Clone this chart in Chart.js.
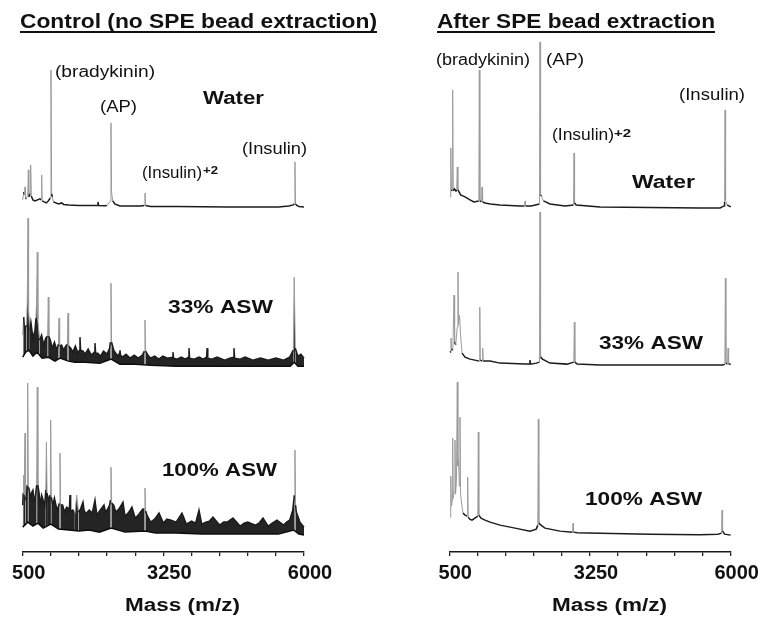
<!DOCTYPE html>
<html>
<head>
<meta charset="utf-8">
<script src="https://cdn.jsdelivr.net/npm/chart.js@4.4.1/dist/chart.umd.min.js"></script>
<style>
  html, body { margin: 0; padding: 0; background: #fff; }
  #wrap { position: relative; width: 764px; height: 618px; overflow: hidden; }
  .panel { position: absolute; top: 0; width: 382px; height: 618px; }
  #pL { left: 0; }
  #pR { left: 382px; }
</style>
</head>
<body>
<div id="wrap">
  <div class="panel" id="pL"><canvas id="cL"></canvas></div>
  <div class="panel" id="pR"><canvas id="cR"></canvas></div>
</div>
<script>
// ---- m/z axis ----
const mzTicks = [500, 1050, 1600, 2150, 2700, 3250, 3800, 4350, 4900, 5450, 6000];
const mzTickLabels = [500, 3250, 6000];

// ---- Control (no SPE bead extraction) ----
// Water
const ctlWaterMz  = [500, 520, 535, 545, 555, 575, 600, 610, 620, 645, 656, 668, 700, 740, 838, 862, 871, 880, 920, 960, 1000, 1040, 1053, 1066, 1080, 1100, 1200, 1262, 1300, 1400, 1600, 1800, 1960, 1972, 1984, 2100, 2150, 2215, 2226, 2237, 2260, 2300, 2400, 2800, 2880, 2891, 2902, 3000, 3500, 4000, 4500, 5000, 5500, 5700, 5790, 5812, 5823, 5834, 5860, 5900, 6000];
const ctlWaterInt = [70, 150, 120, 200, 90, 80, 140, 370, 100, 130, 420, 110, 70, 60, 80, 70, 320, 60, 50, 40, 60, 90, 1370, 130, 100, 50, 30, 40, 25, 20, 15, 15, 15, 50, 15, 12, 15, 60, 840, 150, 60, 30, 10, 8, 15, 140, 15, 5, 3, 2, 0, 0, 0, 10, 20, 30, 450, 30, 15, 5, 0];

// 33% ASW: upper edge of the noise band (with peaks) and lower edge
const ctl33Mz  = [500, 520, 535, 545, 575, 590, 604, 615, 640, 660, 700, 740, 760, 773, 785, 797, 830, 870, 910, 950, 988, 1000, 1012, 1040, 1080, 1120, 1170, 1198, 1210, 1222, 1260, 1300, 1340, 1374, 1386, 1398, 1440, 1480, 1530, 1580, 1608, 1620, 1632, 1680, 1720, 1780, 1840, 1900, 1913, 1926, 1970, 2020, 2080, 2150, 2200, 2214, 2226, 2238, 2280, 2330, 2370, 2390, 2401, 2412, 2450, 2520, 2600, 2680, 2760, 2840, 2879, 2891, 2903, 2950, 3000, 3080, 3160, 3240, 3330, 3426, 3438, 3450, 3520, 3600, 3680, 3739, 3751, 3763, 3850, 3950, 4030, 4095, 4107, 4119, 4200, 4300, 4450, 4550, 4619, 4631, 4643, 4750, 4850, 5000, 5150, 5300, 5450, 5600, 5720, 5790, 5809, 5830, 5880, 5940, 6000];
const ctl33Int = [310, 490, 360, 380, 410, 660, 1480, 560, 360, 440, 280, 360, 480, 660, 1140, 460, 260, 310, 210, 280, 300, 690, 300, 260, 180, 240, 160, 220, 480, 200, 210, 160, 200, 220, 530, 200, 180, 140, 200, 130, 160, 290, 160, 150, 120, 170, 110, 140, 230, 130, 130, 100, 150, 120, 180, 240, 830, 240, 160, 120, 100, 130, 160, 110, 90, 120, 80, 110, 80, 110, 150, 460, 150, 110, 80, 100, 70, 100, 80, 90, 140, 80, 70, 90, 70, 90, 180, 80, 70, 90, 70, 90, 180, 80, 70, 90, 60, 80, 90, 180, 80, 70, 90, 60, 80, 60, 80, 60, 90, 160, 890, 180, 100, 120, 80];
const ctl33LowMz  = [500, 560, 620, 700, 780, 880, 1000, 1130, 1230, 1390, 1520, 1720, 2010, 2230, 2400, 2700, 3000, 3500, 4000, 4500, 5000, 5500, 5730, 5810, 5880, 6000];
const ctl33LowInt = [90, 140, 160, 100, 140, 80, 90, 50, 80, 50, 40, 40, 30, 70, 20, 20, 10, 0, 0, 0, 0, 0, 0, 40, 0, 0];

// 100% ASW
const ctl100Mz  = [500, 510, 520, 532, 545, 556, 570, 586, 598, 610, 630, 650, 672, 700, 720, 740, 773, 785, 797, 820, 840, 870, 900, 930, 952, 964, 976, 1000, 1035, 1047, 1059, 1090, 1120, 1150, 1180, 1217, 1229, 1241, 1280, 1320, 1360, 1413, 1425, 1437, 1480, 1520, 1556, 1590, 1630, 1679, 1700, 1730, 1800, 1860, 1913, 1950, 2000, 2089, 2120, 2160, 2200, 2214, 2226, 2238, 2280, 2320, 2380, 2461, 2500, 2560, 2600, 2636, 2700, 2760, 2800, 2850, 2879, 2891, 2903, 2930, 3000, 3080, 3165, 3250, 3320, 3400, 3500, 3614, 3700, 3800, 3880, 3947, 4000, 4080, 4150, 4220, 4350, 4430, 4500, 4611, 4750, 4830, 4900, 5050, 5120, 5198, 5300, 5380, 5472, 5600, 5660, 5720, 5780, 5811, 5823, 5835, 5850, 5920, 6000];
const ctl100Int = [300, 420, 600, 400, 1020, 380, 350, 500, 1520, 480, 450, 370, 420, 450, 360, 350, 500, 1480, 500, 420, 300, 400, 350, 300, 450, 930, 420, 350, 400, 1150, 380, 300, 370, 300, 250, 320, 820, 300, 300, 230, 280, 260, 400, 240, 250, 210, 400, 230, 260, 330, 250, 210, 250, 220, 350, 200, 240, 300, 230, 260, 300, 350, 680, 320, 300, 230, 260, 330, 190, 220, 250, 280, 170, 200, 230, 260, 260, 470, 240, 200, 130, 160, 220, 120, 160, 150, 130, 220, 110, 140, 120, 250, 110, 130, 140, 180, 100, 130, 130, 170, 90, 120, 130, 100, 120, 170, 90, 120, 150, 100, 130, 150, 250, 400, 850, 300, 230, 130, 80];
const ctl100LowMz  = [500, 600, 700, 800, 900, 1050, 1200, 1400, 1600, 1800, 2000, 2230, 2500, 2890, 3100, 3500, 4000, 4500, 5000, 5500, 5800, 5900, 6000];
const ctl100LowInt = [80, 130, 90, 120, 70, 110, 60, 50, 40, 50, 30, 70, 30, 40, 20, 20, 10, 10, 10, 10, 50, 10, 0];

// ---- After SPE bead extraction ----
const speWaterMz  = [514, 524, 533, 542, 556, 566, 576, 600, 630, 645, 656, 667, 690, 720, 807, 905, 980, 1077, 1087, 1097, 1130, 1140, 1150, 1198, 1300, 1491, 1882, 1970, 1980, 1990, 2100, 2262, 2273, 2284, 2300, 2340, 2469, 2762, 2928, 2938, 2948, 2980, 3446, 4424, 5401, 5792, 5870, 5880, 5890, 5900, 5930, 6000];
const speWaterInt = [110, 180, 600, 170, 180, 1180, 170, 190, 170, 180, 410, 180, 160, 130, 110, 80, 60, 70, 1380, 70, 60, 210, 60, 50, 40, 30, 20, 20, 70, 20, 20, 40, 1660, 130, 120, 70, 40, 20, 30, 550, 50, 30, 10, 5, 0, 0, 20, 60, 980, 80, 30, 10];

const spe33Mz  = [514, 523, 533, 543, 570, 592, 604, 625, 655, 670, 680, 700, 720, 750, 807, 905, 1000, 1086, 1096, 1106, 1143, 1153, 1163, 1296, 1491, 1980, 2067, 2077, 2087, 2200, 2262, 2273, 2284, 2320, 2469, 2800, 2934, 2944, 2954, 3000, 3446, 5401, 5850, 5886, 5896, 5906, 5939, 5949, 5959, 6000];
const spe33Int = [130, 140, 270, 150, 160, 700, 230, 200, 380, 930, 400, 500, 300, 120, 80, 60, 50, 40, 580, 50, 40, 170, 40, 40, 20, 10, 10, 50, 10, 20, 30, 1530, 80, 60, 20, 10, 30, 430, 30, 10, 0, 0, 0, 10, 870, 20, 10, 170, 10, 10];

const spe100Mz  = [514, 524, 533, 543, 556, 566, 576, 600, 611, 622, 640, 656, 668, 680, 697, 709, 721, 740, 768, 807, 849, 859, 869, 900, 944, 1000, 1057, 1067, 1077, 1120, 1198, 1296, 1491, 1784, 2077, 2200, 2230, 2240, 2250, 2290, 2371, 2664, 2908, 2918, 2928, 3000, 3446, 4424, 5401, 5750, 5821, 5831, 5841, 5880, 6000];
const spe100Int = [190, 260, 600, 300, 350, 980, 380, 450, 960, 420, 560, 1540, 700, 760, 500, 1190, 420, 330, 230, 210, 200, 590, 190, 170, 160, 180, 200, 1040, 210, 180, 160, 140, 110, 80, 50, 70, 110, 1170, 130, 110, 80, 50, 40, 130, 40, 35, 30, 20, 15, 20, 30, 260, 50, 20, 10];

// ---- drawing helpers ----
const FONT = '"Liberation Sans", Arial, Helvetica, sans-serif';
const pts = (mz, it) => mz.map((m, i) => ({ x: m, y: it[i] }));

// tall, steep segments (peaks) are drawn as thin grey hairlines
function peakSegment(minRise) {
  const steep = c => Math.abs(c.p1.y - c.p0.y) > minRise;
  return {
    borderColor: c => steep(c) ? '#9b9b9b' : '#1c1c1c',
    borderWidth: c => steep(c) ? 1 : 1.5
  };
}

function trace(mz, it, axis) {
  return {
    data: pts(mz, it), yAxisID: axis, borderColor: '#1c1c1c', borderWidth: 1.5,
    pointRadius: 0, tension: 0, fill: false, segment: peakSegment(4), clip: false
  };
}
function noisyTrace(mz, it, lowMz, lowIt, axis) {
  return [
    { data: pts(mz, it), yAxisID: axis, borderColor: '#1c1c1c', borderWidth: 1.2,
      pointRadius: 0, tension: 0, fill: '+1', backgroundColor: 'rgba(12,12,12,0.9)',
      segment: peakSegment(16), clip: false },
    { data: pts(lowMz, lowIt), yAxisID: axis, borderColor: '#111', borderWidth: 1.5,
      pointRadius: 0, tension: 0, fill: false, clip: false }
  ];
}

// Three spectra stacked in one panel: each has its own intensity axis,
// whose zero sits at the given fraction of the plot height (from the top).
const FULL_SCALE = 5120; // a.u. spanned by the full plot height
function stackAxis(zeroFrac) {
  return { type: 'linear', display: false, min: -(1 - zeroFrac) * FULL_SCALE, max: zeroFrac * FULL_SCALE };
}

function xAxis() {
  return {
    type: 'linear', min: 500, max: 6000,
    afterBuildTicks: s => { s.ticks = mzTicks.map(v => ({ value: v })); },
    afterFit: s => { s.height = 66; },
    ticks: {
      autoSkip: false, maxRotation: 0, padding: 5, labelOffset: 6, color: '#111',
      font: { family: FONT, size: 20, weight: 'bold' },
      callback: v => mzTickLabels.includes(v) ? String(v) : ''
    },
    grid: { display: true, drawOnChartArea: false, drawTicks: true, tickLength: 4, color: '#222', lineWidth: 1.3 },
    border: { display: true, color: '#1a1a1a', width: 1.6 }
  };
}

// text drawn horizontally fitted to a given width
function drawFitted(ctx, t) {
  ctx.save();
  ctx.font = t.font;
  const w = ctx.measureText(t.text).width;
  ctx.translate(t.x, t.y);
  ctx.scale(t.w / w, 1);
  ctx.fillStyle = '#111';
  ctx.textAlign = 'left';
  ctx.textBaseline = 'alphabetic';
  ctx.fillText(t.text, 0, 0);
  ctx.restore();
  if (t.underline) {
    ctx.save();
    ctx.strokeStyle = '#111';
    ctx.lineWidth = 2;
    ctx.beginPath();
    ctx.moveTo(t.x, t.y + 4);
    ctx.lineTo(t.x + t.w, t.y + 4);
    ctx.stroke();
    ctx.restore();
  }
}
const labelsPlugin = {
  id: 'panelLabels',
  afterDraw(chart, args, opts) {
    (opts.items || []).forEach(t => drawFitted(chart.ctx, t));
  }
};

const bold = s => `bold ${s}px ${FONT}`;
const reg = s => `${s}px ${FONT}`;

const leftText = [
  { text: 'Control (no SPE bead extraction)', x: 20, y: 28, w: 357, font: bold(20), underline: true },
  { text: '(bradykinin)', x: 55, y: 77, w: 100, font: reg(16) },
  { text: '(AP)', x: 100, y: 112, w: 37, font: reg(16) },
  { text: '(Insulin)', x: 142, y: 178, w: 60, font: reg(16) },
  { text: '+2', x: 203, y: 174, w: 15, font: bold(11) },
  { text: '(Insulin)', x: 242, y: 154, w: 65, font: reg(16) },
  { text: 'Water', x: 203, y: 104, w: 61, font: bold(18) },
  { text: '33% ASW', x: 168, y: 313, w: 105, font: bold(19) },
  { text: '100% ASW', x: 162, y: 476, w: 115, font: bold(19) },
  { text: 'Mass (m/z)', x: 125, y: 611, w: 115, font: bold(18) }
];
const rightText = [
  { text: 'After SPE bead extraction', x: 55, y: 28, w: 278, font: bold(20), underline: true },
  { text: '(bradykinin)', x: 54, y: 65, w: 94, font: reg(16) },
  { text: '(AP)', x: 164, y: 65, w: 38, font: reg(16) },
  { text: '(Insulin)', x: 170, y: 140, w: 62, font: reg(16) },
  { text: '+2', x: 232, y: 137, w: 17, font: bold(11) },
  { text: '(Insulin)', x: 297, y: 100, w: 66, font: reg(16) },
  { text: 'Water', x: 250, y: 188, w: 63, font: bold(18) },
  { text: '33% ASW', x: 217, y: 349, w: 104, font: bold(19) },
  { text: '100% ASW', x: 203, y: 505, w: 117, font: bold(19) },
  { text: 'Mass (m/z)', x: 170, y: 611, w: 115, font: bold(18) }
];

function panel(canvasId, datasets, zeroFracs, padding, texts) {
  return new Chart(document.getElementById(canvasId), {
    type: 'line',
    data: { datasets },
    options: {
      animation: false,
      responsive: true,
      maintainAspectRatio: false,
      layout: { padding },
      plugins: { legend: { display: false }, tooltip: { enabled: false }, panelLabels: { items: texts } },
      scales: {
        x: xAxis(),
        yW: stackAxis(zeroFracs[0]),
        y33: stackAxis(zeroFracs[1]),
        y100: stackAxis(zeroFracs[2])
      }
    },
    plugins: [labelsPlugin]
  });
}

panel('cL',
  [
    trace(ctlWaterMz, ctlWaterInt, 'yW'),
    ...noisyTrace(ctl33Mz, ctl33Int, ctl33LowMz, ctl33LowInt, 'y33'),
    ...noisyTrace(ctl100Mz, ctl100Int, ctl100LowMz, ctl100LowInt, 'y100')
  ],
  [0.326, 0.637, 0.967],
  { top: 40, left: 22.7, right: 78, bottom: 0 },
  leftText);

panel('cR',
  [
    trace(speWaterMz, speWaterInt, 'yW'),
    trace(spe33Mz, spe33Int, 'y33'),
    trace(spe100Mz, spe100Int, 'y100')
  ],
  [0.328, 0.635, 0.969],
  { top: 40, left: 67.3, right: 33.3, bottom: 0 },
  rightText);
</script>
</body>
</html>
